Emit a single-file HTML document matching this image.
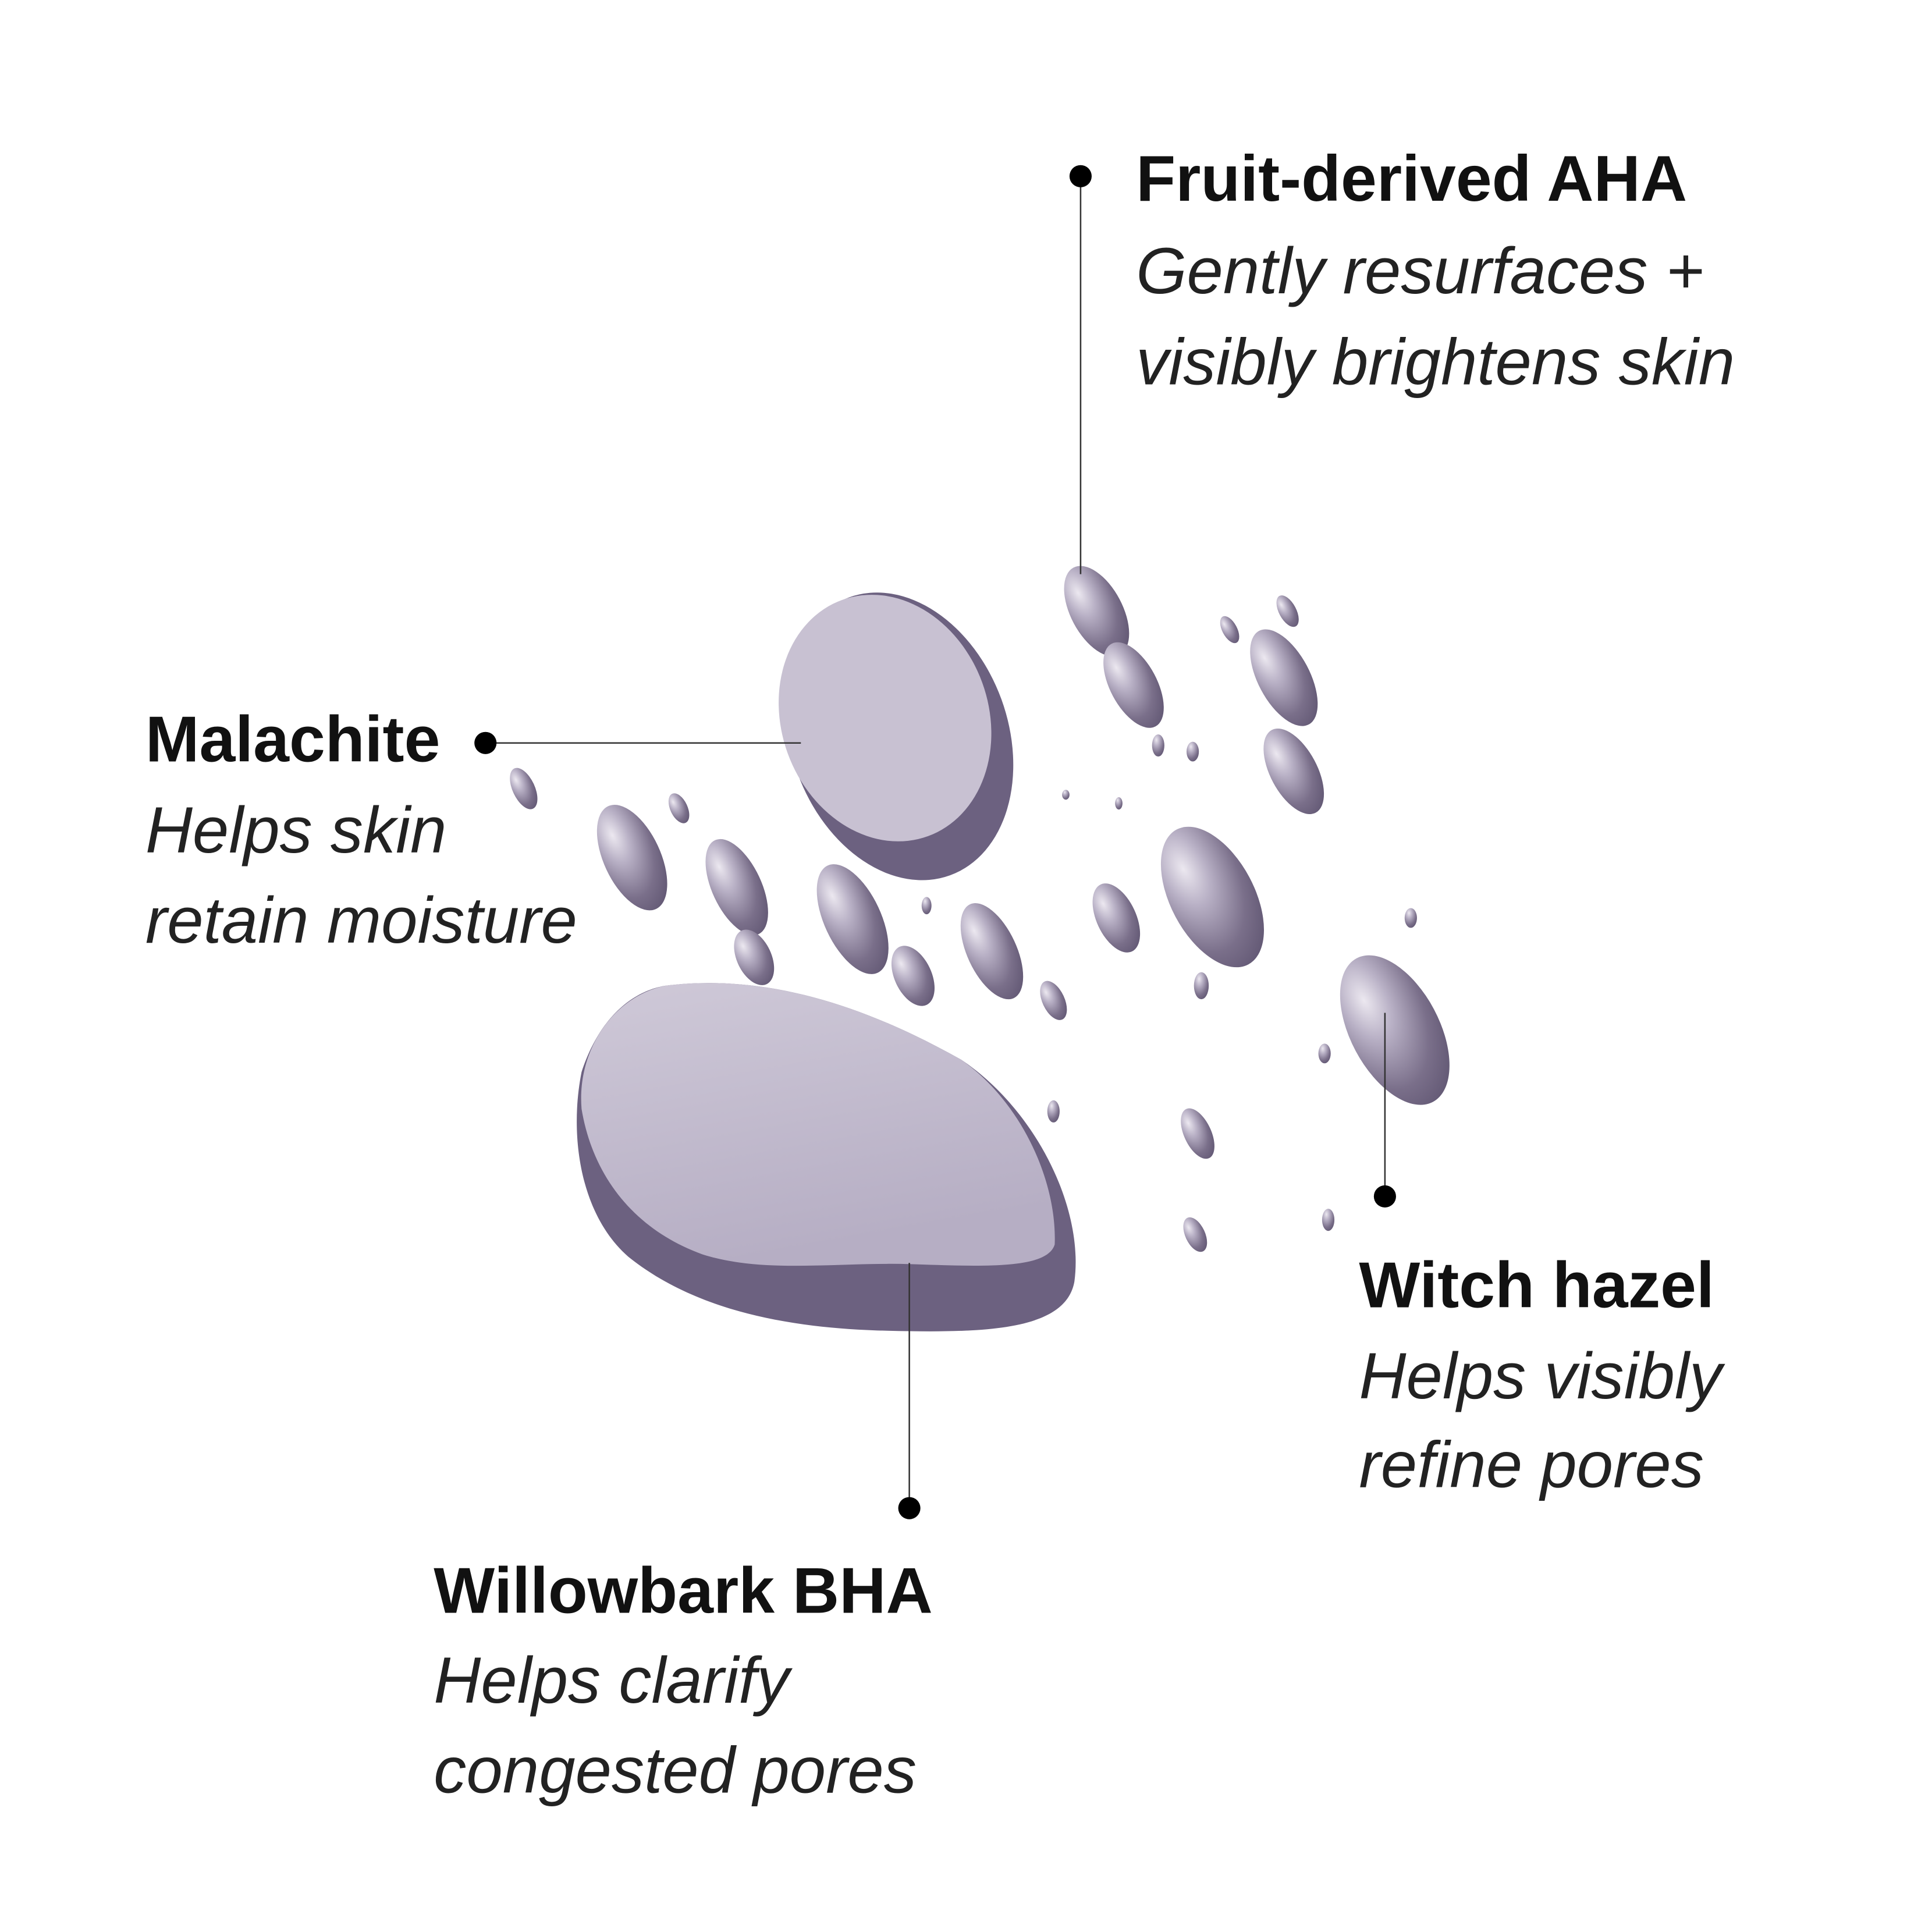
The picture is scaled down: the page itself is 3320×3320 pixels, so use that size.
<!DOCTYPE html>
<html><head><style>html,body{margin:0;padding:0;background:#fff}svg{display:block}</style></head>
<body>
<svg width="3320" height="3320" viewBox="0 0 1568 1568" xmlns="http://www.w3.org/2000/svg">
<defs>
<radialGradient id="dg" cx="0.35" cy="0.25" r="0.85">
<stop offset="0" stop-color="#ece8f0"/><stop offset="0.3" stop-color="#b9b1c6"/><stop offset="0.7" stop-color="#7a6f8a"/><stop offset="1" stop-color="#5e5470"/>
</radialGradient>
<linearGradient id="bg1" x1="0" y1="0" x2="0.3" y2="1">
<stop offset="0" stop-color="#cfc9d8"/><stop offset="1" stop-color="#b6aec4"/>
</linearGradient>
</defs>
<path d="M540,800 C620,790 700,815 780,860 C840,900 880,980 872,1040 C865,1080 800,1082 720,1080 C630,1078 560,1060 510,1020 C470,985 462,920 472,870 C485,830 510,805 540,800 Z" fill="#6c6180"/>
<path d="M540,800 C620,790 700,815 780,860 C830,895 858,960 856,1010 C850,1030 800,1028 740,1026 C680,1024 620,1034 570,1018 C520,1000 482,960 472,900 C468,850 500,808 540,800 Z" fill="url(#bg1)"/>
<g transform="rotate(-20 728 592)">
<ellipse cx="728" cy="598" rx="88" ry="120" fill="#6c6180"/>
<ellipse cx="722" cy="580" rx="84" ry="102" fill="#c8c1d2"/>
</g>
<g fill="url(#dg)">
<ellipse cx="890" cy="496" rx="21" ry="40" transform="rotate(-28 890 496)"/>
<ellipse cx="920" cy="556" rx="19" ry="38" transform="rotate(-28 920 556)"/>
<ellipse cx="1042" cy="550" rx="21" ry="43" transform="rotate(-28 1042 550)"/>
<ellipse cx="1050" cy="626" rx="19" ry="38" transform="rotate(-28 1050 626)"/>
<ellipse cx="1045" cy="496" rx="7" ry="14" transform="rotate(-28 1045 496)"/>
<ellipse cx="998" cy="511" rx="6" ry="12" transform="rotate(-28 998 511)"/>
<ellipse cx="984" cy="728" rx="34" ry="62" transform="rotate(-28 984 728)"/>
<ellipse cx="1132" cy="836" rx="36" ry="66" transform="rotate(-28 1132 836)"/>
<ellipse cx="513" cy="696" rx="23" ry="46" transform="rotate(-25 513 696)"/>
<ellipse cx="598" cy="720" rx="20" ry="42" transform="rotate(-25 598 720)"/>
<ellipse cx="612" cy="777" rx="14" ry="24" transform="rotate(-25 612 777)"/>
<ellipse cx="692" cy="746" rx="23" ry="48" transform="rotate(-25 692 746)"/>
<ellipse cx="741" cy="792" rx="15" ry="26" transform="rotate(-25 741 792)"/>
<ellipse cx="805" cy="772" rx="20" ry="42" transform="rotate(-25 805 772)"/>
<ellipse cx="906" cy="745" rx="16" ry="30" transform="rotate(-25 906 745)"/>
<ellipse cx="425" cy="640" rx="9" ry="18" transform="rotate(-25 425 640)"/>
<ellipse cx="551" cy="656" rx="7" ry="13" transform="rotate(-25 551 656)"/>
<ellipse cx="855" cy="812" rx="9" ry="17" transform="rotate(-25 855 812)"/>
<ellipse cx="972" cy="920" rx="11" ry="22" transform="rotate(-25 972 920)"/>
<ellipse cx="970" cy="1002" rx="8" ry="15" transform="rotate(-25 970 1002)"/>
<ellipse cx="1145" cy="745" rx="5" ry="8"/>
<ellipse cx="975" cy="800" rx="6" ry="11"/>
<ellipse cx="1075" cy="855" rx="5" ry="8"/>
<ellipse cx="1078" cy="990" rx="5" ry="9"/>
<ellipse cx="940" cy="605" rx="5" ry="9"/>
<ellipse cx="968" cy="610" rx="5" ry="8"/>
<ellipse cx="855" cy="902" rx="5" ry="9"/>
<ellipse cx="752" cy="735" rx="4" ry="7"/>
<ellipse cx="908" cy="652" rx="3" ry="5"/>
<ellipse cx="865" cy="645" rx="3" ry="4"/>
</g>
<g stroke="#333" stroke-width="1.2">
<line x1="877" y1="143" x2="877" y2="466"/>
<line x1="394" y1="603" x2="650" y2="603"/>
<line x1="1124" y1="971" x2="1124" y2="822"/>
<line x1="738" y1="1224" x2="738" y2="1025"/>
</g>
<g fill="#000">
<circle cx="877" cy="143" r="9"/>
<circle cx="394" cy="603" r="9"/>
<circle cx="1124" cy="971" r="9"/>
<circle cx="738" cy="1224" r="9"/>
</g>
<g font-family="'Liberation Sans', sans-serif" fill="#111">
<text x="922" y="163" font-size="52.5" font-weight="bold">Fruit-derived AHA</text>
<text x="922" y="238" font-size="53" font-style="italic" fill="#222">Gently resurfaces +</text>
<text x="922" y="312" font-size="53" font-style="italic" fill="#222">visibly brightens skin</text>
<text x="118" y="618" font-size="52.5" font-weight="bold">Malachite</text>
<text x="118" y="692" font-size="53" font-style="italic" fill="#222">Helps skin</text>
<text x="118" y="765" font-size="53" font-style="italic" fill="#222">retain moisture</text>
<text x="1103" y="1061" font-size="52.5" font-weight="bold">Witch hazel</text>
<text x="1103" y="1135" font-size="53" font-style="italic" fill="#222">Helps visibly</text>
<text x="1103" y="1207" font-size="53" font-style="italic" fill="#222">refine pores</text>
<text x="352" y="1309" font-size="52.5" font-weight="bold">Willowbark BHA</text>
<text x="352" y="1382" font-size="53" font-style="italic" fill="#222">Helps clarify</text>
<text x="352" y="1455" font-size="53" font-style="italic" fill="#222">congested pores</text>
</g>
</svg>
</body></html>
